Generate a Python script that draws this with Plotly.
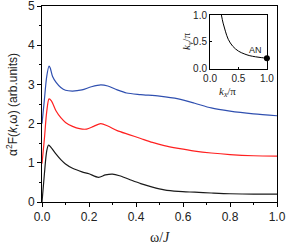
import plotly.graph_objects as go

omega_black = [0.0, 0.01, 0.02, 0.028, 0.04, 0.06, 0.08, 0.10, 0.13, 0.17, 0.20, 0.24, 0.27, 0.30, 0.33, 0.37, 0.42, 0.47, 0.52, 0.58, 0.65, 0.72, 0.80, 0.90, 1.00]
val_black = [0.0, 0.7, 1.3, 1.45, 1.38, 1.22, 1.08, 0.97, 0.86, 0.77, 0.72, 0.63, 0.69, 0.71, 0.67, 0.58, 0.47, 0.38, 0.31, 0.27, 0.25, 0.23, 0.21, 0.20, 0.20]

omega_red = [0.0, 0.01, 0.02, 0.03, 0.04, 0.06, 0.08, 0.10, 0.13, 0.16, 0.19, 0.22, 0.25, 0.28, 0.32, 0.37, 0.42, 0.47, 0.52, 0.58, 0.65, 0.72, 0.80, 0.90, 1.00]
val_red = [0.98, 1.6, 2.3, 2.63, 2.58, 2.32, 2.15, 2.03, 1.93, 1.87, 1.86, 1.93, 2.0, 1.94, 1.82, 1.72, 1.62, 1.52, 1.44, 1.37, 1.30, 1.25, 1.21, 1.18, 1.17]

omega_blue = [0.0, 0.01, 0.02, 0.03, 0.035, 0.045, 0.06, 0.08, 0.10, 0.13, 0.17, 0.21, 0.25, 0.28, 0.32, 0.36, 0.42, 0.50, 0.58, 0.65, 0.72, 0.80, 0.90, 1.00]
val_blue = [2.0, 2.6, 3.2, 3.47, 3.42, 3.2, 3.05, 2.92, 2.85, 2.83, 2.86, 2.94, 2.99, 2.96, 2.86, 2.78, 2.74, 2.70, 2.63, 2.52, 2.40, 2.32, 2.25, 2.20]

inset_kx = [0.2, 0.23, 0.27, 0.32, 0.4, 0.5, 0.6, 0.7, 0.8, 0.9, 1.0]
inset_ky = [1.0, 0.85, 0.7, 0.55, 0.42, 0.33, 0.28, 0.245, 0.225, 0.21, 0.2]
dot_kx = [1.0]
dot_ky = [0.2]

main_ticks = [0.0, 0.2, 0.4, 0.6, 0.8, 1.0]
main_ticklabels = ["0.0", "0.2", "0.4", "0.6", "0.8", "1.0"]
y_ticks = [0, 1, 2, 3, 4, 5]
inset_ticks = [0.0, 0.5, 1.0]
inset_ticklabels = ["0.0", "0.5", "1.0"]

fig = go.Figure()
for xs, ys, c in [(omega_black, val_black, "#1a1a1a"), (omega_red, val_red, "#ff2020"), (omega_blue, val_blue, "#3050b0")]:
    fig.add_trace(go.Scatter(x=xs, y=ys, mode="lines", line=dict(color=c, width=1.2, shape="spline", smoothing=0.8),
                             xaxis="x", yaxis="y", showlegend=False, hoverinfo="skip"))

fig.add_trace(go.Scatter(x=inset_kx, y=inset_ky, mode="lines", line=dict(color="black", width=1, shape="spline"),
                         xaxis="x2", yaxis="y2", showlegend=False, hoverinfo="skip"))
fig.add_trace(go.Scatter(x=dot_kx, y=dot_ky, mode="markers", marker=dict(color="black", size=6),
                         xaxis="x2", yaxis="y2", showlegend=False, hoverinfo="skip", cliponaxis=False))

font = "Liberation Sans, Arial, sans-serif"
serif = "Liberation Serif, Times New Roman, serif"
axis_common = dict(showgrid=False, zeroline=False, showline=True, linecolor="black", linewidth=1, mirror=True,
                   ticks="outside", ticklen=4, tickcolor="black", automargin=False, ticklabeloverflow="allow",
                   tickfont=dict(family=font, size=12, color="#222"))
inset_common = dict(showgrid=False, zeroline=False, showline=True, linecolor="black", linewidth=1, mirror=True,
                    ticks="inside", ticklen=2, tickcolor="black", automargin=False, ticklabeloverflow="allow",
                    tickfont=dict(family=font, size=10, color="#222"))

fig.update_layout(
    width=286, height=245,
    margin=dict(l=42, r=9, t=6, b=43, autoexpand=False),
    paper_bgcolor="white", plot_bgcolor="white",
    xaxis=dict(range=[0, 1.0], tickvals=main_ticks, ticktext=main_ticklabels,
               minor=dict(ticks="outside", ticklen=2, dtick=0.1, tickcolor="black"),
               **axis_common),
    yaxis=dict(range=[0, 5], tickvals=y_ticks,
               minor=dict(ticks="outside", ticklen=2, dtick=0.5, tickcolor="black"),
               **axis_common),
    xaxis2=dict(domain=[0.715, 0.957], anchor="y2", range=[0, 1.0], tickvals=inset_ticks, ticktext=inset_ticklabels,
                **inset_common),
    yaxis2=dict(domain=[0.679, 0.954], anchor="x2", range=[0, 1.0], tickvals=inset_ticks, ticktext=inset_ticklabels,
                **inset_common),
    annotations=[
        dict(x=0.8, y=0.35, xref="x2", yref="y2", text="AN", showarrow=False,
             font=dict(family=font, size=9, color="#222")),
        dict(x=0.5, y=-0.135, xref="paper", yref="paper", text="ω/<i>J</i>", showarrow=False,
             yanchor="top", font=dict(family=serif, size=14, color="#222")),
        dict(x=-0.128, y=0.5, xref="paper", yref="paper", text="α<sup>2</sup>F(<i>k</i>,ω) (arb.units)", showarrow=False,
             textangle=-90, xanchor="center", yanchor="middle", font=dict(family=font, size=12, color="#222")),
        dict(x=0.836, y=0.56, xref="paper", yref="paper", text="<i>k<sub>x</sub></i>/π", showarrow=False,
             yanchor="middle", font=dict(family=serif, size=11, color="#222")),
        dict(x=0.62, y=0.82, xref="paper", yref="paper", text="<i>k<sub>y</sub></i>/π", showarrow=False,
             textangle=-90, xanchor="center", yanchor="middle", font=dict(family=serif, size=11, color="#222")),
    ],
)

fig.write_html("out.html", config={"displayModeBar": False},
               post_script="document.body.style.margin='0';document.body.style.overflow='hidden';")
